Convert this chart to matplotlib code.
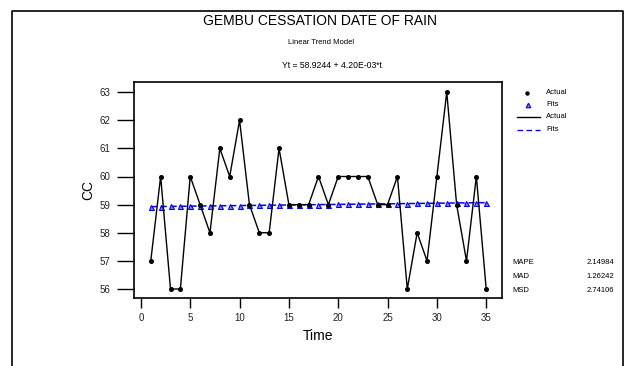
import matplotlib
matplotlib.use("Agg")
import matplotlib.pyplot as plt
from matplotlib.lines import Line2D
import numpy as np
from matplotlib import font_manager

names = {f.name for f in font_manager.fontManager.ttflist}
fam = ['Liberation Sans Narrow'] if 'Liberation Sans Narrow' in names else ['Liberation Sans']
plt.rcParams['font.family'] = fam + ['DejaVu Sans']

time = list(range(1, 36))
actual = [57, 60, 56, 56, 60, 59, 58, 61, 60, 62,
          59, 58, 58, 61, 59, 59, 59, 60, 59, 60,
          60, 60, 60, 59, 59, 60, 56, 58, 57, 60,
          63, 59, 57, 60, 56]
intercept = 58.9244
slope = 4.20e-03
fits = [intercept + slope * t for t in time]
xticks = [0, 5, 10, 15, 20, 25, 30, 35]
yticks = [56, 57, 58, 59, 60, 61, 62, 63]
stats_names = ["MAPE", "MAD", "MSD"]
stats_vals = ["2.14984", "1.26242", "2.74106"]

W, H = 628, 366
fig = plt.figure(figsize=(W / 100, H / 100), dpi=100)

def fx(px):
    return px / W

def fy(py):
    return 1 - py / H

ax = fig.add_axes([fx(134), fy(298), fx(502) - fx(134), fy(82) - fy(298)])
ax.plot(time, actual, color='black', lw=1.0, marker='o', ms=2.6, zorder=3)
ax.plot(time, fits, color='blue', lw=1.1, ls=(0, (4, 2.5)), marker='^', ms=3.6,
        mfc='#8080ff', mec='blue', mew=0.8, zorder=2)
ax.set_xlim(-0.7, 36.6)
ax.set_ylim(55.68, 63.36)
ax.set_xticks(xticks)
ax.set_yticks(yticks)
ax.tick_params(axis='y', length=12, width=1, labelsize=7, pad=5, labelcolor='#222222')
ax.tick_params(axis='x', length=7, width=1, labelsize=7, pad=4, labelcolor='#222222')
for s in ax.spines.values():
    s.set_linewidth(1.2)
ax.set_xlabel("Time", fontsize=10, labelpad=4)
ax.set_ylabel("CC", fontsize=10, labelpad=3)

fig.text(fx(320), fy(21), "GEMBU CESSATION DATE OF RAIN", ha='center', va='center', fontsize=10)
fig.text(fx(321), fy(43), "Linear Trend Model", ha='center', va='center', fontsize=5.5)
fig.text(fx(332), fy(66), "Yt = 58.9244 + 4.20E-03*t", ha='center', va='center', fontsize=6.2)

# border
fig.add_artist(Line2D([fx(12), fx(12), fx(623), fx(623)], [0, fy(11), fy(11), 0],
                      transform=fig.transFigure, color='black', lw=1.2))

# legend
lx0, lx1, tx = 517, 540, 546
fig.add_artist(Line2D([fx(527)], [fy(93)], transform=fig.transFigure, marker='o', ms=2.2,
                      color='black', ls='none'))
fig.text(fx(tx), fy(93), "Actual", fontsize=5.5, va='center')
fig.add_artist(Line2D([fx(528)], [fy(105)], transform=fig.transFigure, marker='^', ms=3.3,
                      mfc='#8080ff', mec='blue', mew=0.8, ls='none'))
fig.text(fx(tx), fy(105), "Fits", fontsize=5.5, va='center')
fig.add_artist(Line2D([fx(lx0), fx(lx1)], [fy(117), fy(117)], transform=fig.transFigure,
                      color='black', lw=1.0))
fig.text(fx(tx), fy(117), "Actual", fontsize=5.5, va='center')
fig.add_artist(Line2D([fx(lx0), fx(lx1)], [fy(130), fy(130)], transform=fig.transFigure,
                      color='blue', lw=1.0, ls=(0, (4, 2.5))))
fig.text(fx(tx), fy(130), "Fits", fontsize=5.5, va='center')

for i, (n, v) in enumerate(zip(stats_names, stats_vals)):
    yy = fy(263 + i * 14)
    fig.text(fx(512), yy, n, fontsize=5.5, va='center', ha='left')
    fig.text(fx(614), yy, v, fontsize=5.5, va='center', ha='right')

fig.savefig("out.png", dpi=100)
